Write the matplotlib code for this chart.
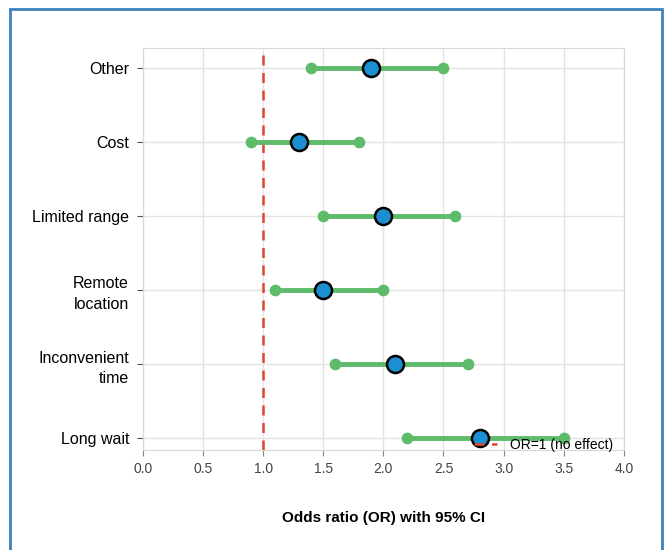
import numpy as np
import matplotlib.pyplot as plt
from matplotlib.patches import Rectangle

plt.rcParams['font.family'] = ['Liberation Sans', 'DejaVu Sans']

labels = ['Long wait', 'Inconvenient\ntime', 'Remote\nlocation', 'Limited range', 'Cost', 'Other']
odds = [2.8, 2.1, 1.5, 2.0, 1.3, 1.9]
ci_low = [2.2, 1.6, 1.1, 1.5, 0.9, 1.4]
ci_high = [3.5, 2.7, 2.0, 2.6, 1.8, 2.5]

green = '#5dbb6a'
blue = '#1b8fd2'
red = '#e2452f'

fig = plt.figure(figsize=(6.65, 5.5), dpi=100)
ax = fig.add_axes([0.215, 0.182, 0.723, 0.731])

ypos = np.arange(len(labels))
for y, lo, hi in zip(ypos, ci_low, ci_high):
    ax.plot([lo, hi], [y, y], color=green, lw=3.5, solid_capstyle='round', zorder=3)
ax.scatter(ci_low, ypos, s=55, color=green, zorder=4)
ax.scatter(ci_high, ypos, s=55, color=green, zorder=4)
ax.scatter(odds, ypos, s=150, color=blue, edgecolor='black', linewidth=1.8, zorder=5)

ax.axvline(1.0, color=red, ls='--', lw=1.8, dashes=(4, 3), label='OR=1 (no effect)', zorder=2)

ax.set_xlim(0, 4)
ax.set_ylim(-0.16, 5.27)
ax.set_xticks(np.arange(0, 4.01, 0.5))
ax.set_xticklabels([f'{v:.1f}' for v in np.arange(0, 4.01, 0.5)])
ax.set_yticks(ypos)
ax.set_yticklabels(labels, fontsize=11.5, linespacing=1.45)
ax.tick_params(axis='y', length=4, color='#555555', pad=6)
ax.tick_params(axis='x', length=4, color='#888888', labelcolor='#444444', labelsize=10, pad=5)
ax.grid(True, color='#e3e3e3', lw=1)
ax.set_axisbelow(True)
for s in ax.spines.values():
    s.set_color('#d8d8d8')
ax.set_xlabel('Odds ratio (OR) with 95% CI', fontsize=11, fontweight='bold', labelpad=25)

leg = ax.legend(loc='lower right', frameon=False, fontsize=10, handlelength=1.7,
                handletextpad=0.9, borderaxespad=0.2, bbox_to_anchor=(0.995, -0.025))
leg.set_zorder(6)

fig.patches.append(Rectangle((10 / 665, -0.01), 652 / 665, 1 - 9 / 550 + 0.01,
                             transform=fig.transFigure, fill=False,
                             edgecolor='#3d82bd', lw=2))

fig.savefig('out.png', dpi=100)
